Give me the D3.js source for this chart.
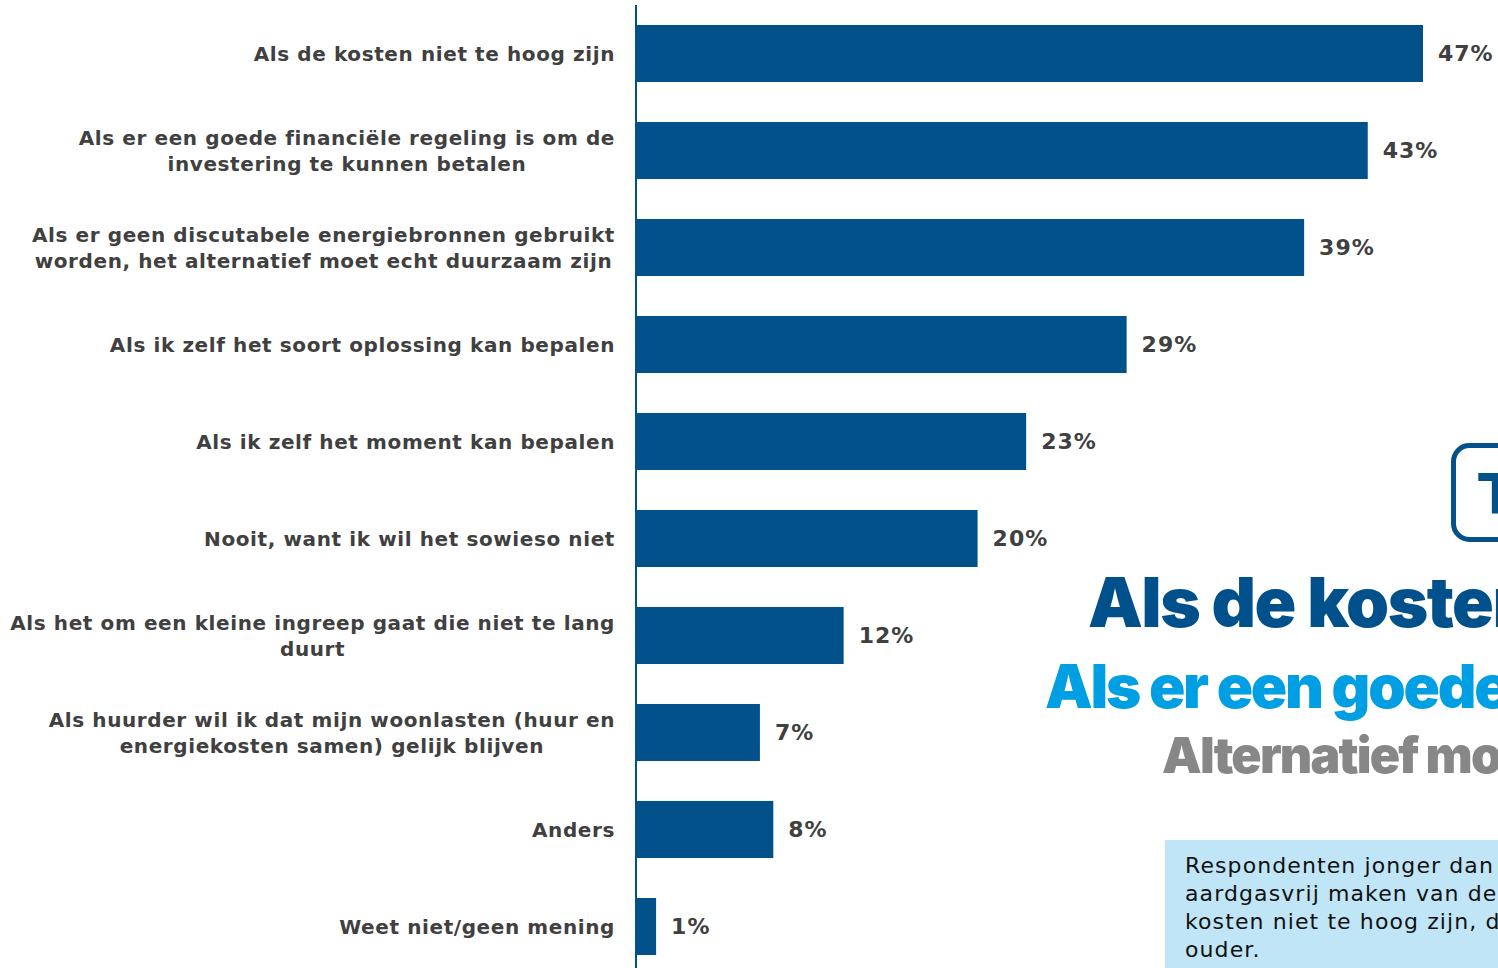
<!DOCTYPE html>
<html>
<head>
<meta charset="utf-8">
<script src="https://cdn.jsdelivr.net/npm/d3@7"></script>
<style>
  html, body { margin: 0; padding: 0; background: #ffffff; overflow: hidden; }
  svg { display: block; }
</style>
</head>
<body>
<script>
// ---- data ----
const categories = [
  "Als de kosten niet te hoog zijn",
  "Als er een goede financiële regeling is om de\ninvestering te kunnen betalen",
  "Als er geen discutabele energiebronnen gebruikt\nworden, het alternatief moet echt duurzaam zijn",
  "Als ik zelf het soort oplossing kan bepalen",
  "Als ik zelf het moment kan bepalen",
  "Nooit, want ik wil het sowieso niet",
  "Als het om een kleine ingreep gaat die niet te lang\nduurt",
  "Als huurder wil ik dat mijn woonlasten (huur en\nenergiekosten samen) gelijk blijven",
  "Anders",
  "Weet niet/geen mening"
];
const values = [47.0, 43.7, 39.9, 29.3, 23.3, 20.4, 12.4, 7.4, 8.2, 1.2];
const valueLabels = ["47%", "43%", "39%", "29%", "23%", "20%", "12%", "7%", "8%", "1%"];

const headlines = [
  "Als de kosten niet te hoog zijn",
  "Als er een goede financiële regeling",
  "Alternatief moet echt duurzaam zijn"
];
const noteLines = [
  "Respondenten jonger dan 35 jaar",
  "aardgasvrij maken van de woning",
  "kosten niet te hoog zijn, dan",
  "ouder."
];

// ---- drawing ----
const W = 1498, H = 968;
const svg = d3.select("body").append("svg").attr("width", W).attr("height", H);

const x = d3.scaleLinear().domain([0, 47]).range([636, 1423]);
const y = d3.scaleBand().domain(categories).range([5, 975]).paddingInner(0.412).paddingOuter(0.206);

const barColor = "#02518a";
const textColor = "#404040";

// bars
svg.append("g").selectAll("rect").data(categories).join("rect")
  .attr("x", x(0))
  .attr("y", d => y(d))
  .attr("width", (d, i) => x(values[i]) - x(0))
  .attr("height", y.bandwidth())
  .attr("fill", barColor);

// axis line
const yAxis = d3.axisLeft(y).tickSize(0).tickFormat("");
svg.append("g").attr("transform", `translate(${x(0)},0)`).call(yAxis)
  .call(g => g.select(".domain").attr("stroke", barColor).attr("stroke-width", 2).attr("d", `M0,5V${H}`));

// category labels (block right-aligned, lines centered)
const labelRight = 615;
const lineH = 26;
const lg = svg.append("g")
  .attr("font-family", "'DejaVu Sans', Verdana, sans-serif")
  .attr("font-weight", "bold")
  .attr("font-size", 20)
  .attr("letter-spacing", 0.6)
  .attr("fill", textColor);
categories.forEach(c => {
  const lines = c.split("\n");
  const t = lg.append("text").attr("text-anchor", "middle");
  const cy = y(c) + y.bandwidth() / 2;
  lines.forEach((ln, k) => {
    t.append("tspan")
      .attr("x", 0)
      .attr("y", cy + (k - (lines.length - 1) / 2) * lineH)
      .attr("dy", "0.35em")
      .text(ln);
  });
  const w = t.node().getBBox().width;
  t.selectAll("tspan").attr("x", labelRight - w / 2);
});

// value labels
svg.append("g")
  .attr("font-family", "'DejaVu Sans', Verdana, sans-serif")
  .attr("font-weight", "bold")
  .attr("font-size", 22)
  .attr("letter-spacing", 1)
  .attr("fill", textColor)
  .selectAll("text").data(categories).join("text")
  .attr("x", (d, i) => x(values[i]) + 15)
  .attr("y", d => y(d) + y.bandwidth() / 2)
  .attr("dy", "0.35em")
  .text((d, i) => valueLabels[i]);

// ---- overlay (background slide elements) ----
svg.append("rect")
  .attr("x", 1453.5).attr("y", 445.5).attr("width", 120).attr("height", 94)
  .attr("rx", 16).attr("fill", "none").attr("stroke", barColor).attr("stroke-width", 5);
svg.append("text")
  .attr("x", 1478).attr("y", 513)
  .attr("font-family", "'DejaVu Sans', sans-serif").attr("font-weight", "bold")
  .attr("font-size", 56).attr("fill", barColor).text("T");

const hl = svg.append("g").attr("font-family", "Inter, Lato, Roboto, sans-serif").attr("font-weight", 900);
hl.append("text").attr("x", 1088).attr("y", 627).attr("font-size", 69)
  .attr("letter-spacing", -1.5).attr("fill", "#00508c").text(headlines[0]);
hl.append("text").attr("x", 1045).attr("y", 708).attr("font-size", 60)
  .attr("letter-spacing", -2.2).attr("fill", "#009fe3").text(headlines[1]);
hl.append("text").attr("x", 1162).attr("y", 773).attr("font-size", 50)
  .attr("letter-spacing", -1.8).attr("fill", "#878787").text(headlines[2]);

svg.append("rect").attr("x", 1165).attr("y", 840).attr("width", 400).attr("height", 200).attr("fill", "#c0e5f7");
const nt = svg.append("g").attr("font-family", "'DejaVu Sans', Verdana, sans-serif")
  .attr("font-size", 22).attr("letter-spacing", 1.1).attr("fill", "#111111");
noteLines.forEach((ln, k) => {
  nt.append("text").attr("x", 1185).attr("y", 873 + k * 28).text(ln);
});
</script>
</body>
</html>
